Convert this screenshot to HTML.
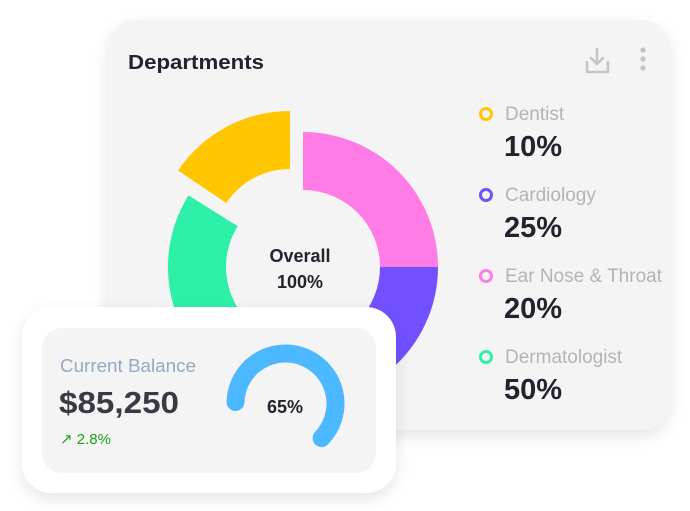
<!DOCTYPE html>
<html><head><style>
body{margin:0;width:690px;height:511px;background:#fff;overflow:hidden;font-family:"Liberation Sans",sans-serif;}
</style></head><body>
<svg width="690" height="511" viewBox="0 0 690 511" xmlns="http://www.w3.org/2000/svg" style="position:absolute;left:0;top:0">
<defs>
<filter id="sh" x="-20%" y="-20%" width="140%" height="150%"><feDropShadow dx="0" dy="6" stdDeviation="8" flood-color="#000" flood-opacity="0.10"/></filter>
</defs>
<rect x="108" y="20" width="562" height="410" rx="28" fill="#f4f4f4" filter="url(#sh)"/>
<text x="128" y="69" font-size="20" font-weight="bold" fill="#23222e" textLength="136" lengthAdjust="spacingAndGlyphs">Departments</text>
<g stroke="#c4c4c4" stroke-width="2.5" fill="none" stroke-linecap="round" stroke-linejoin="round">
<path d="M597 49 V64 M591 58 L597 64 L603 58"/>
<path d="M587 62 V72 H608 V62"/>
</g>
<circle cx="643" cy="50" r="2.6" fill="#c4c4c4"/><circle cx="643" cy="59" r="2.6" fill="#c4c4c4"/><circle cx="643" cy="68" r="2.6" fill="#c4c4c4"/>
<path d="M303 132 A135 135 0 0 1 438 267 L380 267 A77 77 0 0 0 303 190 Z" fill="#ff7be5"/>
<path d="M438 267 A135 135 0 0 1 303 402 L303 344 A77 77 0 0 0 380 267 Z" fill="#7350ff"/>
<path d="M303 402 A135 135 0 0 1 188.5 195.4 L237.7 226.2 A77 77 0 0 0 303 344 Z" fill="#2df0a8"/>
<path d="M178.1 170.5 A135 135 0 0 1 290 111 L290 169 A77 77 0 0 0 226.2 203 Z" fill="#ffc600"/>
<text x="300" y="262" font-size="18" font-weight="bold" fill="#23222e" text-anchor="middle">Overall</text>
<text x="300" y="288" font-size="18" font-weight="bold" fill="#23222e" text-anchor="middle">100%</text>
<g font-size="19" fill="#b4b4b4">
<circle cx="486" cy="114" r="5.5" fill="none" stroke="#ffc600" stroke-width="3"/>
<text x="505" y="120">Dentist</text>
<circle cx="486" cy="195" r="5.5" fill="none" stroke="#7350ff" stroke-width="3"/>
<text x="505" y="201">Cardiology</text>
<circle cx="486" cy="276" r="5.5" fill="none" stroke="#ff7be5" stroke-width="3"/>
<text x="505" y="282" textLength="157" lengthAdjust="spacingAndGlyphs">Ear Nose &amp; Throat</text>
<circle cx="486" cy="357" r="5.5" fill="none" stroke="#2df0a8" stroke-width="3"/>
<text x="505" y="363">Dermatologist</text>
</g>
<g font-size="29" font-weight="bold" fill="#23222e">
<text x="504" y="156">10%</text>
<text x="504" y="237">25%</text>
<text x="504" y="318">20%</text>
<text x="504" y="399">50%</text>
</g>
<rect x="22" y="307" width="374" height="186" rx="30" fill="#fff" filter="url(#sh)"/>
<rect x="42" y="328" width="334" height="145" rx="20" fill="#f4f4f4"/>
<text x="60" y="372" font-size="18" fill="#94a9c4" textLength="136" lengthAdjust="spacingAndGlyphs">Current Balance</text>
<text x="59" y="413" font-size="31" font-weight="bold" fill="#3a3a46" textLength="120" lengthAdjust="spacingAndGlyphs">$85,250</text>
<text x="60" y="444" font-size="15" fill="#1aa31a">↗ 2.8%</text>
<path d="M235.5 402 A50 50 0 1 1 321.6 438.1" fill="none" stroke="#4cb8ff" stroke-width="18" stroke-linecap="round"/>
<text x="285" y="413" font-size="18" font-weight="bold" fill="#23222e" text-anchor="middle">65%</text>
</svg>
</body></html>
